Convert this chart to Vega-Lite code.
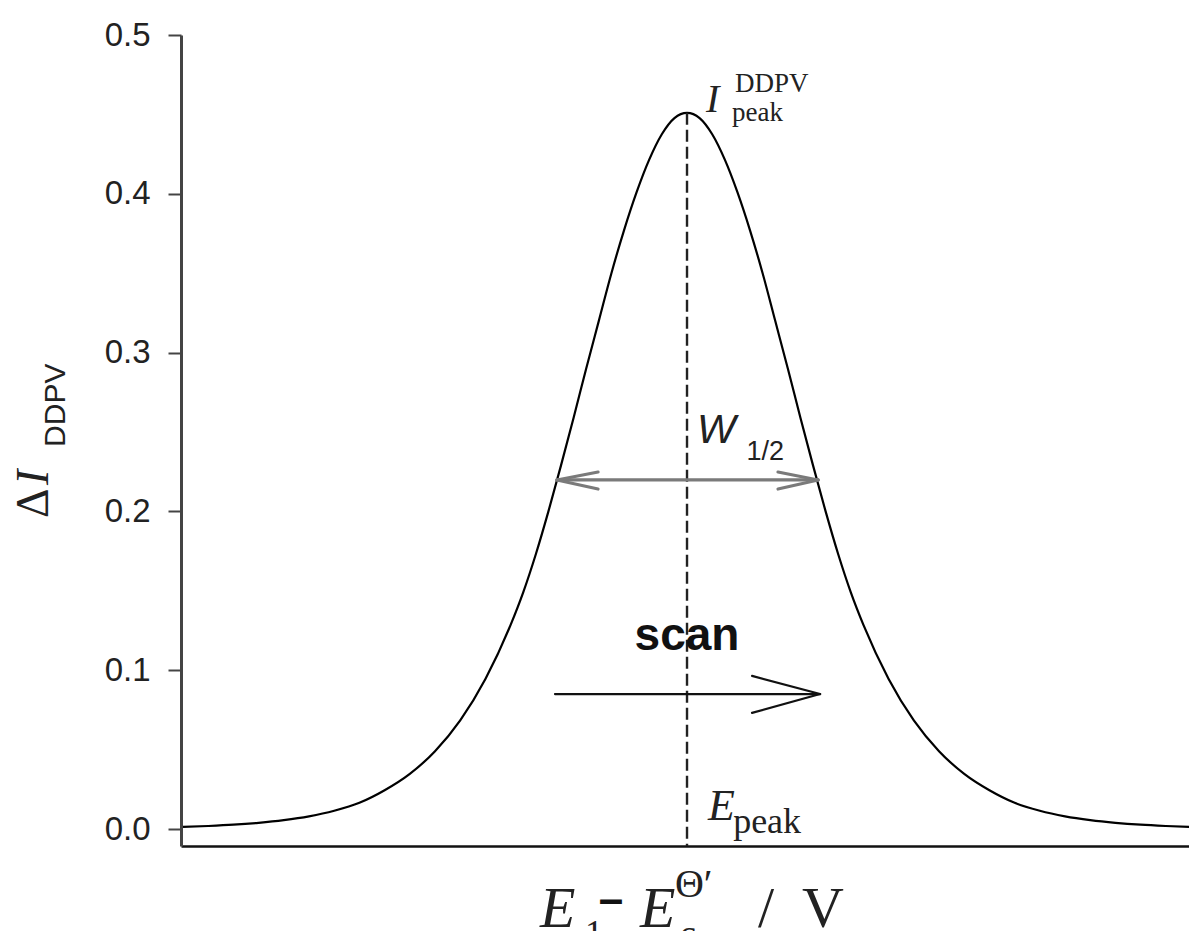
{
  "$schema": "https://vega.github.io/schema/vega-lite/v6.json",
  "autosize": {"type": "none"},
  "padding": {"left": 181, "top": 35, "right": 0, "bottom": 85},
  "width": 1008,
  "height": 811,
  "background": "white",
  "config": {
    "view": {"stroke": null},
    "axis": {"grid": false, "labelFont": "Liberation Sans", "titleFont": "Liberation Sans"}
  },
  "datasets": {
    "curve": [
      {"E": -0.20, "dI": 0.0013}, {"E": -0.19, "dI": 0.0019}, {"E": -0.18, "dI": 0.0027},
      {"E": -0.17, "dI": 0.0039}, {"E": -0.16, "dI": 0.0056}, {"E": -0.15, "dI": 0.0080},
      {"E": -0.14, "dI": 0.0115}, {"E": -0.13, "dI": 0.0165}, {"E": -0.12, "dI": 0.0244},
      {"E": -0.11, "dI": 0.0347}, {"E": -0.10, "dI": 0.0490}, {"E": -0.09, "dI": 0.0684},
      {"E": -0.08, "dI": 0.0945}, {"E": -0.07, "dI": 0.1285}, {"E": -0.065, "dI": 0.149},
      {"E": -0.06, "dI": 0.173}, {"E": -0.055, "dI": 0.200}, {"E": -0.05, "dI": 0.229},
      {"E": -0.045, "dI": 0.259}, {"E": -0.04, "dI": 0.290}, {"E": -0.035, "dI": 0.320},
      {"E": -0.03, "dI": 0.350}, {"E": -0.025, "dI": 0.377}, {"E": -0.02, "dI": 0.401},
      {"E": -0.015, "dI": 0.4215}, {"E": -0.01, "dI": 0.4375}, {"E": -0.005, "dI": 0.4477},
      {"E": 0.0, "dI": 0.451},
      {"E": 0.005, "dI": 0.4477}, {"E": 0.01, "dI": 0.4375}, {"E": 0.015, "dI": 0.4215},
      {"E": 0.02, "dI": 0.401}, {"E": 0.025, "dI": 0.377}, {"E": 0.03, "dI": 0.350},
      {"E": 0.035, "dI": 0.320}, {"E": 0.04, "dI": 0.290}, {"E": 0.045, "dI": 0.259},
      {"E": 0.05, "dI": 0.229}, {"E": 0.055, "dI": 0.200}, {"E": 0.06, "dI": 0.173},
      {"E": 0.065, "dI": 0.149}, {"E": 0.07, "dI": 0.1285}, {"E": 0.08, "dI": 0.0945},
      {"E": 0.09, "dI": 0.0684}, {"E": 0.10, "dI": 0.0490}, {"E": 0.11, "dI": 0.0347},
      {"E": 0.12, "dI": 0.0244}, {"E": 0.13, "dI": 0.0165}, {"E": 0.14, "dI": 0.0115},
      {"E": 0.15, "dI": 0.0080}, {"E": 0.16, "dI": 0.0056}, {"E": 0.17, "dI": 0.0039},
      {"E": 0.18, "dI": 0.0027}, {"E": 0.19, "dI": 0.0019}, {"E": 0.20, "dI": 0.0013}
    ],
    "segments": [
      {"part": "peakline", "x": 0.0, "y": 0.451, "x2": 0.0, "y2": -0.0107},
      {"part": "width", "x": -0.0516, "y": 0.2198, "x2": 0.0520, "y2": 0.2198},
      {"part": "width", "x": -0.0516, "y": 0.2198, "x2": -0.0353, "y2": 0.2248},
      {"part": "width", "x": -0.0516, "y": 0.2198, "x2": -0.0353, "y2": 0.2141},
      {"part": "width", "x": 0.0520, "y": 0.2198, "x2": 0.0361, "y2": 0.2248},
      {"part": "width", "x": 0.0520, "y": 0.2198, "x2": 0.0361, "y2": 0.2141},
      {"part": "scan", "x": -0.0524, "y": 0.0850, "x2": 0.0528, "y2": 0.0850},
      {"part": "scan", "x": 0.0528, "y": 0.0850, "x2": 0.0258, "y2": 0.0964},
      {"part": "scan", "x": 0.0528, "y": 0.0850, "x2": 0.0258, "y2": 0.0731}
    ],
    "labels": [
      {"part": "peakI", "x": 0.0075, "y": 0.4515, "text": "I"},
      {"part": "peakScript", "x": 0.0190, "y": 0.4641, "text": "DDPV"},
      {"part": "peakScript", "x": 0.0179, "y": 0.4458, "text": "peak"},
      {"part": "W", "x": 0.0040, "y": 0.2431, "text": "W"},
      {"part": "Wsub", "x": 0.0236, "y": 0.2324, "text": "1/2"},
      {"part": "scan", "x": 0.0, "y": 0.1127, "text": "scan"},
      {"part": "EpeakE", "x": 0.0083, "y": 0.0057, "text": "E"},
      {"part": "EpeakSub", "x": 0.0183, "y": -0.0025, "text": "peak"},
      {"part": "xE", "x": -0.0583, "y": -0.0617, "text": "E"},
      {"part": "xE", "x": -0.0187, "y": -0.0617, "text": "E"},
      {"part": "xSub", "x": -0.0405, "y": -0.0728, "text": "1"},
      {"part": "xSub", "x": -0.0028, "y": -0.0728, "text": "c"},
      {"part": "xSup", "x": -0.0048, "y": -0.0428, "text": "Θ′"},
      {"part": "xMinus", "x": -0.0302, "y": -0.0535, "text": "–"},
      {"part": "xMain", "x": 0.0282, "y": -0.0617, "text": "/"},
      {"part": "xMain", "x": 0.0456, "y": -0.0617, "text": "V"},
      {"part": "yDelta", "x": -0.2536, "y": 0.1958, "text": "Δ"},
      {"part": "yI", "x": -0.2536, "y": 0.2166, "text": "I"},
      {"part": "ySub", "x": -0.2468, "y": 0.2406, "text": "DDPV"}
    ]
  },
  "encoding": {
    "x": {"type": "quantitative"},
    "y": {"type": "quantitative"}
  },
  "layer": [
    {
      "data": {"name": "curve"},
      "mark": {"type": "line", "color": "black", "strokeWidth": 2.2, "interpolate": "monotone", "clip": true},
      "encoding": {
        "x": {
          "field": "E", "type": "quantitative",
          "scale": {"domain": [-0.2008, 0.1992], "nice": false, "zero": false},
          "axis": {"title": null, "labels": false, "ticks": false, "domainColor": "#111", "domainWidth": 2.4, "grid": false}
        },
        "y": {
          "field": "dI", "type": "quantitative",
          "scale": {"domain": [-0.0107, 0.5], "nice": false, "zero": false},
          "axis": {
            "title": null, "values": [0, 0.1, 0.2, 0.3, 0.4, 0.5], "format": ".1f",
            "labelFontSize": 33, "labelColor": "#222", "labelPadding": 18,
            "tickSize": 13, "tickWidth": 2, "tickColor": "#444",
            "domainColor": "#444", "domainWidth": 3, "grid": false
          }
        }
      }
    },
    {
      "data": {"name": "segments"},
      "transform": [{"filter": "datum.part === 'peakline'"}],
      "mark": {"type": "rule", "color": "#222", "strokeWidth": 2.4, "strokeDash": [12, 5]},
      "encoding": {
        "x": {"field": "x", "type": "quantitative"}, "y": {"field": "y", "type": "quantitative"},
        "x2": {"field": "x2"}, "y2": {"field": "y2"}
      }
    },
    {
      "data": {"name": "segments"},
      "transform": [{"filter": "datum.part === 'width'"}],
      "mark": {"type": "rule", "color": "#7a7a7a", "strokeWidth": 3.2, "strokeCap": "round"},
      "encoding": {
        "x": {"field": "x", "type": "quantitative"}, "y": {"field": "y", "type": "quantitative"},
        "x2": {"field": "x2"}, "y2": {"field": "y2"}
      }
    },
    {
      "data": {"name": "segments"},
      "transform": [{"filter": "datum.part === 'scan'"}],
      "mark": {"type": "rule", "color": "#111", "strokeWidth": 2.2, "strokeCap": "round"},
      "encoding": {
        "x": {"field": "x", "type": "quantitative"}, "y": {"field": "y", "type": "quantitative"},
        "x2": {"field": "x2"}, "y2": {"field": "y2"}
      }
    },
    {
      "data": {"name": "labels"},
      "transform": [{"filter": "datum.part === 'peakI'"}],
      "mark": {"type": "text", "font": "Liberation Serif", "fontStyle": "italic", "fontSize": 40, "align": "left", "baseline": "alphabetic", "color": "#222"},
      "encoding": {"x": {"field": "x", "type": "quantitative"}, "y": {"field": "y", "type": "quantitative"}, "text": {"field": "text"}}
    },
    {
      "data": {"name": "labels"},
      "transform": [{"filter": "datum.part === 'peakScript'"}],
      "mark": {"type": "text", "font": "Liberation Serif", "fontSize": 27, "align": "left", "baseline": "alphabetic", "color": "#222"},
      "encoding": {"x": {"field": "x", "type": "quantitative"}, "y": {"field": "y", "type": "quantitative"}, "text": {"field": "text"}}
    },
    {
      "data": {"name": "labels"},
      "transform": [{"filter": "datum.part === 'W'"}],
      "mark": {"type": "text", "font": "Liberation Sans", "fontStyle": "italic", "fontSize": 41, "align": "left", "baseline": "alphabetic", "color": "#222"},
      "encoding": {"x": {"field": "x", "type": "quantitative"}, "y": {"field": "y", "type": "quantitative"}, "text": {"field": "text"}}
    },
    {
      "data": {"name": "labels"},
      "transform": [{"filter": "datum.part === 'Wsub'"}],
      "mark": {"type": "text", "font": "Liberation Sans", "fontSize": 27, "align": "left", "baseline": "alphabetic", "color": "#222"},
      "encoding": {"x": {"field": "x", "type": "quantitative"}, "y": {"field": "y", "type": "quantitative"}, "text": {"field": "text"}}
    },
    {
      "data": {"name": "labels"},
      "transform": [{"filter": "datum.part === 'scan'"}],
      "mark": {"type": "text", "font": "Liberation Sans", "fontWeight": "bold", "fontSize": 46, "align": "center", "baseline": "alphabetic", "color": "#111"},
      "encoding": {"x": {"field": "x", "type": "quantitative"}, "y": {"field": "y", "type": "quantitative"}, "text": {"field": "text"}}
    },
    {
      "data": {"name": "labels"},
      "transform": [{"filter": "datum.part === 'EpeakE'"}],
      "mark": {"type": "text", "font": "Liberation Serif", "fontStyle": "italic", "fontSize": 44, "align": "left", "baseline": "alphabetic", "color": "#222"},
      "encoding": {"x": {"field": "x", "type": "quantitative"}, "y": {"field": "y", "type": "quantitative"}, "text": {"field": "text"}}
    },
    {
      "data": {"name": "labels"},
      "transform": [{"filter": "datum.part === 'EpeakSub'"}],
      "mark": {"type": "text", "font": "Liberation Serif", "fontSize": 36, "align": "left", "baseline": "alphabetic", "color": "#222"},
      "encoding": {"x": {"field": "x", "type": "quantitative"}, "y": {"field": "y", "type": "quantitative"}, "text": {"field": "text"}}
    },
    {
      "data": {"name": "labels"},
      "transform": [{"filter": "datum.part === 'xE'"}],
      "mark": {"type": "text", "font": "Liberation Serif", "fontStyle": "italic", "fontSize": 58, "align": "left", "baseline": "alphabetic", "color": "#222"},
      "encoding": {"x": {"field": "x", "type": "quantitative"}, "y": {"field": "y", "type": "quantitative"}, "text": {"field": "text"}}
    },
    {
      "data": {"name": "labels"},
      "transform": [{"filter": "datum.part === 'xSub'"}],
      "mark": {"type": "text", "font": "Liberation Serif", "fontSize": 36, "align": "left", "baseline": "alphabetic", "color": "#222"},
      "encoding": {"x": {"field": "x", "type": "quantitative"}, "y": {"field": "y", "type": "quantitative"}, "text": {"field": "text"}}
    },
    {
      "data": {"name": "labels"},
      "transform": [{"filter": "datum.part === 'xSup'"}],
      "mark": {"type": "text", "font": "Liberation Serif", "fontSize": 40, "align": "left", "baseline": "alphabetic", "color": "#222"},
      "encoding": {"x": {"field": "x", "type": "quantitative"}, "y": {"field": "y", "type": "quantitative"}, "text": {"field": "text"}}
    },
    {
      "data": {"name": "labels"},
      "transform": [{"filter": "datum.part === 'xMinus'"}],
      "mark": {"type": "text", "font": "Liberation Sans", "fontWeight": "bold", "fontSize": 44, "align": "center", "baseline": "alphabetic", "color": "#111"},
      "encoding": {"x": {"field": "x", "type": "quantitative"}, "y": {"field": "y", "type": "quantitative"}, "text": {"field": "text"}}
    },
    {
      "data": {"name": "labels"},
      "transform": [{"filter": "datum.part === 'xMain'"}],
      "mark": {"type": "text", "font": "Liberation Serif", "fontSize": 58, "align": "left", "baseline": "alphabetic", "color": "#222"},
      "encoding": {"x": {"field": "x", "type": "quantitative"}, "y": {"field": "y", "type": "quantitative"}, "text": {"field": "text"}}
    },
    {
      "data": {"name": "labels"},
      "transform": [{"filter": "datum.part === 'yDelta'"}],
      "mark": {"type": "text", "font": "Liberation Serif", "fontSize": 46, "angle": 270, "align": "left", "baseline": "alphabetic", "color": "#222"},
      "encoding": {"x": {"field": "x", "type": "quantitative"}, "y": {"field": "y", "type": "quantitative"}, "text": {"field": "text"}}
    },
    {
      "data": {"name": "labels"},
      "transform": [{"filter": "datum.part === 'yI'"}],
      "mark": {"type": "text", "font": "Liberation Serif", "fontStyle": "italic", "fontSize": 46, "angle": 270, "align": "left", "baseline": "alphabetic", "color": "#222"},
      "encoding": {"x": {"field": "x", "type": "quantitative"}, "y": {"field": "y", "type": "quantitative"}, "text": {"field": "text"}}
    },
    {
      "data": {"name": "labels"},
      "transform": [{"filter": "datum.part === 'ySub'"}],
      "mark": {"type": "text", "font": "Liberation Sans", "fontSize": 30, "angle": 270, "align": "left", "baseline": "alphabetic", "color": "#222"},
      "encoding": {"x": {"field": "x", "type": "quantitative"}, "y": {"field": "y", "type": "quantitative"}, "text": {"field": "text"}}
    }
  ]
}
